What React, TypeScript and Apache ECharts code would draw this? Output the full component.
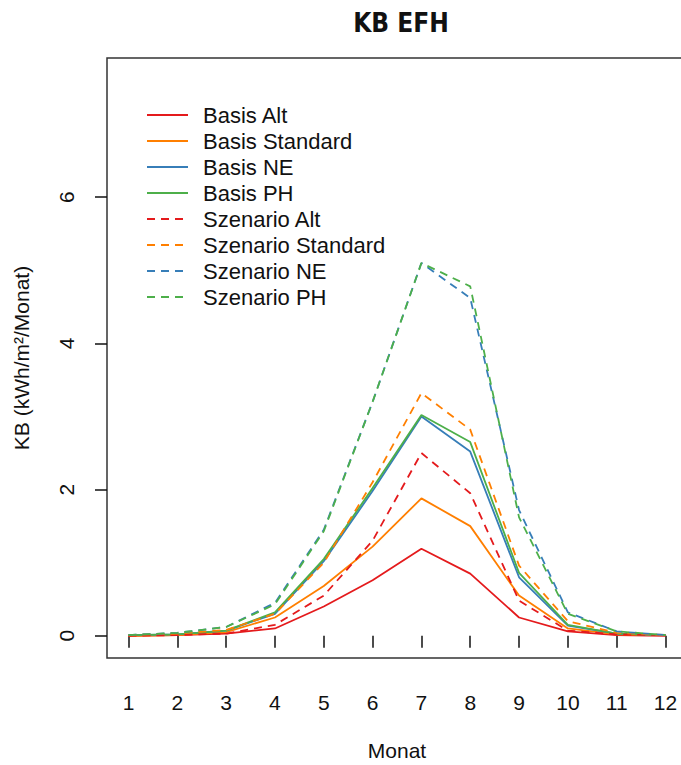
import React, { useEffect, useRef } from "react";
import * as echarts from "echarts";

const months = [1, 2, 3, 4, 5, 6, 7, 8, 9, 10, 11, 12];
const xTicks = [1, 2, 3, 4, 5, 6, 7, 8, 9, 10, 11, 12];
const yTicks = [0, 2, 4, 6];

const basisAlt = [0.0, 0.01, 0.03, 0.1, 0.4, 0.76, 1.19, 0.85, 0.25, 0.06, 0.01, 0.0];
const basisStandard = [0.0, 0.01, 0.05, 0.25, 0.68, 1.22, 1.88, 1.5, 0.55, 0.1, 0.02, 0.01];
const basisNE = [0.01, 0.02, 0.07, 0.3, 1.02, 1.98, 3.0, 2.52, 0.8, 0.14, 0.03, 0.01];
const basisPH = [0.01, 0.02, 0.07, 0.32, 1.05, 2.02, 3.02, 2.65, 0.86, 0.15, 0.03, 0.01];
const szenAlt = [0.0, 0.01, 0.03, 0.15, 0.55, 1.3, 2.5, 1.95, 0.48, 0.07, 0.02, 0.01];
const szenStandard = [0.01, 0.03, 0.08, 0.3, 1.0, 2.1, 3.32, 2.82, 0.96, 0.2, 0.04, 0.01];
const szenNE = [0.01, 0.04, 0.12, 0.45, 1.45, 3.2, 5.1, 4.62, 1.72, 0.32, 0.06, 0.01];
const szenPH = [0.01, 0.04, 0.12, 0.43, 1.43, 3.2, 5.1, 4.78, 1.62, 0.3, 0.06, 0.01];

const seriesDefs = [
  { name: "Basis Alt", data: basisAlt, color: "#E41A1C", dashed: false },
  { name: "Basis Standard", data: basisStandard, color: "#FF7F00", dashed: false },
  { name: "Basis NE", data: basisNE, color: "#377EB8", dashed: false },
  { name: "Basis PH", data: basisPH, color: "#4DAF4A", dashed: false },
  { name: "Szenario Alt", data: szenAlt, color: "#E41A1C", dashed: true },
  { name: "Szenario Standard", data: szenStandard, color: "#FF7F00", dashed: true },
  { name: "Szenario NE", data: szenNE, color: "#377EB8", dashed: true },
  { name: "Szenario PH", data: szenPH, color: "#4DAF4A", dashed: true },
];

const FONT = "'Liberation Sans', Arial, sans-serif";

export default function App() {
  const ref = useRef<HTMLDivElement>(null);
  useEffect(() => {
    if (!ref.current) return;
    const chart = echarts.init(ref.current, undefined, { renderer: "svg" });
    chart.setOption({
      animation: false,
      backgroundColor: "#fff",
      title: {
        text: "KB EFH",
        left: 396,
        top: 5,
        textAlign: "center",
        textStyle: {
          fontFamily: "'DejaVu Sans Condensed', 'DejaVu Sans', sans-serif",
          fontWeight: "bold",
          fontSize: 26,
          color: "#111",
        },
      },
      legend: {
        orient: "vertical",
        left: 141,
        top: 99,
        itemWidth: 41,
        itemHeight: 14,
        itemGap: 4,
        itemStyle: { opacity: 0 },
        textStyle: {
          fontFamily: FONT,
          fontSize: 22,
          lineHeight: 21,
          color: "#111",
          padding: [0, 0, 0, 10],
        },
        data: seriesDefs.map((s) => s.name),
      },
      grid: {
        left: 107,
        right: 13,
        top: 58,
        bottom: 107,
        show: true,
        borderColor: "#333",
        borderWidth: 1.5,
        backgroundColor: "transparent",
        outerBoundsMode: "none",
        containLabel: false,
      },
      xAxis: {
        type: "value",
        min: 0.56,
        max: 12.44,
        name: "Monat",
        nameLocation: "middle",
        nameGap: 82,
        nameTextStyle: { fontFamily: FONT, fontSize: 21, color: "#111" },
        axisLine: { show: false },
        splitLine: { show: false },
        axisTick: {
          show: true,
          customValues: xTicks,
          length: 12,
          lineStyle: { color: "#111", width: 1.5 },
        },
        axisLabel: {
          customValues: xTicks,
          margin: 34,
          fontFamily: FONT,
          fontSize: 21,
          color: "#111",
        },
      },
      yAxis: {
        type: "value",
        min: -0.304,
        max: 7.904,
        name: "KB (kWh/m²/Monat)",
        nameLocation: "middle",
        nameRotate: 90,
        nameGap: 75,
        nameTextStyle: { fontFamily: FONT, fontSize: 21, color: "#111" },
        axisLine: { show: false },
        splitLine: { show: false },
        axisTick: {
          show: true,
          customValues: yTicks,
          length: 12,
          lineStyle: { color: "#111", width: 1.5 },
        },
        axisLabel: {
          customValues: yTicks,
          rotate: 90,
          margin: 30,
          fontFamily: FONT,
          fontSize: 21,
          color: "#111",
        },
      },
      series: seriesDefs.map((s) => ({
        name: s.name,
        type: "line",
        data: months.map((m, i) => [m, s.data[i]]),
        symbol: "none",
        showSymbol: false,
        color: s.color,
        lineStyle: {
          color: s.color,
          width: 1.8,
          type: s.dashed ? [8, 6] : "solid",
        },
        itemStyle: { color: s.color },
      })),
    });
    return () => chart.dispose();
  }, []);
  return (
    <div
      style={{
        position: "fixed",
        left: 0,
        top: 0,
        width: 681,
        height: 765,
        overflow: "hidden",
        background: "#fff",
      }}
    >
      <div ref={ref} style={{ width: 700, height: 765 }} />
    </div>
  );
}
